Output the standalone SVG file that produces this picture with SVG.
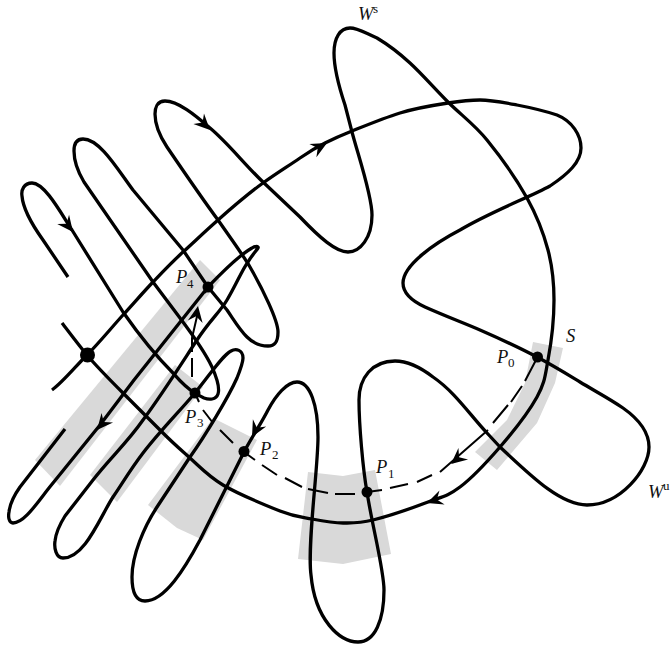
<svg xmlns="http://www.w3.org/2000/svg" xmlns:xlink="http://www.w3.org/1999/xlink" width="671" height="645" viewBox="0 0 671 645">
<style>
.g{fill:#d9d9d9;stroke:none}
.c{fill:none;stroke:#000;stroke-width:3.3;stroke-linecap:butt;stroke-linejoin:round}
.d{fill:none;stroke:#000;stroke-width:2}
.t{font-family:"Liberation Serif","Times New Roman",serif;font-size:18.500px;font-style:italic;fill:#111}
.s{font-family:"Liberation Serif","Times New Roman",serif;font-size:13px;fill:#111}
.p{fill:#000}
</style>
<defs><path id="a" d="M0 0L-16 -7.500L-10.500 0L-16 7.500Z"/></defs>
<rect width="671" height="645" fill="#fff"/>
<g id="regions">
<polygon class="g" points="533,342 563,348 555,383 537,423 497,470 475,452 507,420 525,383"/>
<polygon class="g" points="308,472 343,476 375,470 391,554 343,564 298,559"/>
<polygon class="g" points="213,418 257,440 203,540 177,528 148,505"/>
<polygon class="g" points="175,365 203,387 117,502 90,475"/>
<polygon class="g" points="200,260 220,280 60,486 35,460"/>
</g>
<g id="connectors">
<path id="unstable" class="c" d="M52 390C62 383 75 367 87 355S112 327 123 315S143 292.500 153 282S172 262 183 252S205 231.500 218 220S249 193 263 183S290 165 300 158S316 147.500 325 143S339.500 136 352 131S384 118 400 113S435 105 448 103S468.500 100 480 100S504 102.500 517 105S542 110 557 115C572 121 581 135 581 148C581 162 568 174 550 186C530 197 490 212 460 230C435 243 403 265 403 283C403 293 412 301 425 307C445 316 464 323 480 330S520 348 537 357S566 373.500 580 382S610 399 623 408C640 420 649 433 649 447C649 470 620 505 587 505C560 505 530 475 500 447L487 433C470 415 455 392 433 377C420 367 408 361 395 361C372 361 359 378 359 400C359 425 363 470 367 492C372 525 384 570 384 590C384 620 375 642 358 642C340 642 315 620 311 575C307 545 318 470 318 437C318 405 310 382 297 382C287 382 276 395 268 410C262 422 252 437 244 452L200 540C185 568 165 601 145 601C135 601 132 590 132 577C132 555 144 527 157 507L190 457C205 436 228 398 237 378C241 368 243 362 243 358C243 350 236 348 231 351C222 356 212 372 195 393C178 413 160 431 143 453C130 470 122 484 113 497C100 517 85 558 63 558C56 558 54 548 55 541C56 532 60 524 65 516L93 480C110 458 127 443 143 420C165 390 185 358 197 340C210 320 220 312 227 300C236 285 242 270 248 262C252 255 257 250 258 248C259 246 255 246 252 248C243 253 228 266 208 287L134 380L100 425L53 483C38 501 25 523 13 523C9 523 8 517 9 512C10 503 15 494 20 487L65 429"/>
<path id="stable" class="c" d="M62 323C66 328 77 343 87 355S110 380 123 393S152 422 163 433S180 449 190 458S208 476 223 485S265 505 280 511S301.500 517 312 519S333 523 343 523S359 523.500 373 520S413.500 507.500 428 502S448 496 460 487S487 462 500 447S529 411.500 537 397S545 376 548 360S554 318 554 300S552.500 267 548 250S537 216 527 198S500 156 487 140S461 115 448 102S422 74 410 63S387 44 377 38C365 33 358 28 350 28C340 28 334 38 334 53C334 70 340 90 345 105L352 132C358 155 372 195 372 215C372 238 360 252 348 252C336 252 320 238 300 217L263 182C245 165 228 143 210 128C195 115 178 101 165 101C157 101 155 108 155 114C155 126 161 138 167 147C184 172 201 197 218 220C232 240 243 255 250 267C262 288 278 320 278 332C278 342 275 346 268 346C258 346 252 342 247 337C239 329 234 320 227 310L208 287L183 250L133 190C118 170 100 139 83 139C76 139 74 145 74 151C74 163 78 172 84 182L153 282L180 318C192 334 205 352 212 367C216 376 220 388 218 394C216 400 209 400 204 398C200 396 198 395 195 393C186 388 180 381 173 373C155 355 137 332 123 312L72 230C62 215 45 183 32 183C24 183 21 190 22 196C23 209 33 226 43 240L68 277"/>
<path id="orbit" class="d" d="M536 360L525 381M522 386L511 402M508 405L493 423M488 430L440 472M432 475L417 482M408 484L390 488M382 490L367 492M355 494L335 494M328 493L308 489M302 487L285 478M277 475L262 465M255 460L244 452M233 443L220 430M213 423L203 410M199 402L195 393M192 377L192 358M192 352L192 338L195 325L198 312M205 293L208 287"/>
<use xlink:href="#a" href="#a" transform="translate(327,143) rotate(-28)"/>
<use xlink:href="#a" href="#a" transform="translate(210,130) rotate(45)"/>
<use xlink:href="#a" href="#a" transform="translate(73,232) rotate(52)"/>
<use xlink:href="#a" href="#a" transform="translate(97,430) rotate(130)"/>
<use xlink:href="#a" href="#a" transform="translate(252,437) rotate(118)"/>
<use xlink:href="#a" href="#a" transform="translate(427,503) rotate(160)"/>
<use xlink:href="#a" href="#a" transform="translate(451,464) rotate(140)"/>
<use xlink:href="#a" href="#a" transform="translate(198,306) rotate(-80)"/>
</g>
<g id="saddle"><circle class="p" cx="87.500" cy="355" r="7.500"/></g>
<g id="P0"><circle class="p" cx="537.500" cy="357" r="5.500"/><text class="t" x="497" y="363">P</text><text class="s" x="508" y="367">0</text></g>
<g id="P1"><circle class="p" cx="367" cy="492" r="5.500"/><text class="t" x="376" y="473">P</text><text class="s" x="388" y="478">1</text></g>
<g id="P2"><circle class="p" cx="244" cy="451.500" r="5.500"/><text class="t" x="260" y="455">P</text><text class="s" x="272" y="459">2</text></g>
<g id="P3"><circle class="p" cx="195" cy="393" r="5.500"/><text class="t" x="185" y="423">P</text><text class="s" x="197" y="427">3</text></g>
<g id="P4"><circle class="p" cx="208" cy="287" r="5.500"/><text class="t" x="176" y="283">P</text><text class="s" x="187" y="288">4</text></g>
<g id="labels">
<text class="t" x="358" y="20">W</text><text class="s" x="373" y="13">s</text>
<text class="t" x="566" y="342">S</text>
<text class="t" x="648" y="498">W</text><text class="s" x="663" y="490">u</text>
</g>
</svg>
